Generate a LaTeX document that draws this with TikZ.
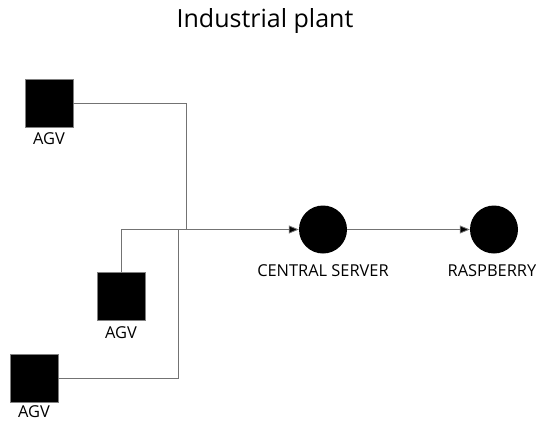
\documentclass[tikz,border=0pt]{standalone}
\usepackage{fontspec}
\setmainfont{Open Sans}
\usetikzlibrary{arrows.meta}
\begin{document}
\begin{tikzpicture}[x=1pt,y=-1pt,
  agv/.style={draw=gray,fill=black,minimum size=48pt,inner sep=0pt,line width=0.6pt},
  srv/.style={circle,fill=black,minimum size=48pt,inner sep=0pt},
  lbl/.style={font=\fontsize{16.4}{19}\selectfont,inner sep=0pt},
  wire/.style={draw=black!55,line width=0.8pt},
  arr/.style={wire,-{Triangle[length=10pt,width=8pt,fill=black]}}
]
\useasboundingbox (0,0) rectangle (536,426);
\node[font=\fontsize{25}{29}\selectfont,inner sep=0pt] (title) at (265,21) {Industrial plant};
\node[agv] (agv1) at (49,103) {};
\node[agv] (agv2) at (121,296) {};
\node[agv] (agv3) at (34,378) {};
\node[lbl] (l1) at (49,139) {AGV};
\node[lbl] (l2) at (121,333) {AGV};
\node[lbl] (l3) at (34,412) {AGV};
\node[srv] (srv) at (323,229.5) {};
\node[srv] (ras) at (494,229.5) {};
\node[lbl] (ls) at (323,271) {CENTRAL SERVER};
\node[lbl] (lr) at (492,271) {RASPBERRY};
\coordinate (j1) at (186,229.5);
\coordinate (j3) at (178,229.5);
\draw[wire] (agv1.east) -| (j1);
\draw[wire] (agv3.east) -| (j3);
\draw[arr] (agv2.north) |- (srv.west);
\draw[arr] (srv.east) -- (ras.west);
\end{tikzpicture}
\end{document}
